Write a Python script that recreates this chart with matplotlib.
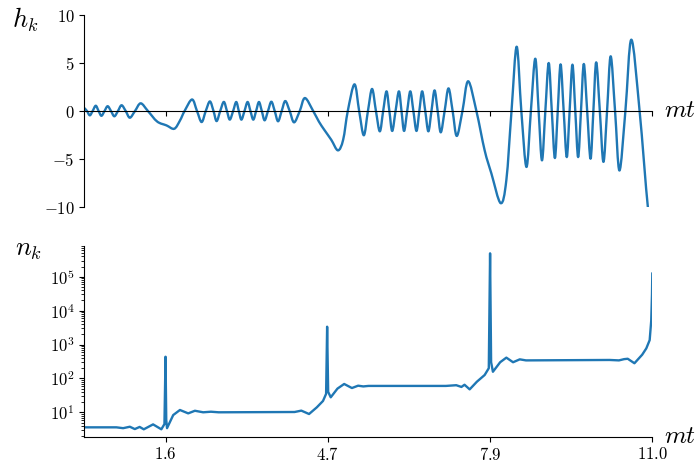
import numpy as np
import matplotlib
matplotlib.use("Agg")
import matplotlib.pyplot as plt
from matplotlib.path import Path
from matplotlib.patches import PathPatch
from matplotlib.ticker import FixedLocator, FuncFormatter, NullFormatter, LogLocator

plt.rcParams.update({
    "font.family": "serif",
    "font.serif": ["cmr10"],
    "mathtext.fontset": "cm",
    "axes.formatter.use_mathtext": True,
    "axes.unicode_minus": True,
})

# ---- data ----
# top panel: mode function h_k versus mt (extrema and zero crossings)
h_t = [0.00, 0.05, 0.105, 0.16, 0.22, 0.275, 0.33, 0.39, 0.45, 0.515, 0.58, 0.65, 0.72, 0.80, 0.88, 0.98,
       1.09, 1.23, 1.41, 1.59, 1.74, 1.85, 1.94, 2.085, 2.18, 2.27, 2.35, 2.43, 2.50, 2.56, 2.63, 2.70,
       2.76, 2.815, 2.88, 2.94, 2.99, 3.04, 3.10, 3.16, 3.215, 3.27, 3.325, 3.38, 3.435, 3.49, 3.555,
       3.62, 3.685, 3.75, 3.82, 3.89, 3.975, 4.06, 4.17, 4.27, 4.43, 4.54, 4.65, 4.78, 4.91, 5.01, 5.10,
       5.23, 5.32, 5.41, 5.49, 5.57, 5.645, 5.72, 5.785, 5.85, 5.905, 5.96, 6.025, 6.09, 6.14, 6.19,
       6.25, 6.31, 6.37, 6.43, 6.485, 6.54, 6.60, 6.66, 6.72, 6.78, 6.84, 6.90, 6.975, 7.05, 7.13, 7.21,
       7.32, 7.43, 7.59, 7.75, 7.88, 8.06, 8.17, 8.27, 8.37, 8.46, 8.56, 8.645, 8.73, 8.795, 8.86,
       8.925, 8.99, 9.05, 9.11, 9.165, 9.22, 9.28, 9.34, 9.395, 9.45, 9.505, 9.56, 9.615, 9.67, 9.735,
       9.80, 9.855, 9.91, 9.98, 10.05, 10.12, 10.19, 10.275, 10.36, 10.475, 10.59, 10.75, 10.91, 10.996]
h_v = [0.30, 0.0, -0.45, 0.0, 0.55, 0.0, -0.5, 0.0, 0.5, 0.0, -0.55, 0.0, 0.6, 0.0, -0.7, 0.0,
       0.8, 0.0, -1.1, -1.5, -1.85, -1.0, 0.0, 1.2, 0.0, -1.15, 0.0, 1.0, 0.0, -1.05, 0.0, 0.95,
       0.0, -0.9, 0.0, 0.94, 0.0, -0.9, 0.0, 0.94, 0.0, -0.9, 0.0, 0.94, 0.0, -0.97, 0.0,
       0.97, 0.0, -1.07, 0.0, 1.04, 0.0, -1.18, 0.0, 1.35, 0.0, -1.1, -2.0, -3.0, -4.1, -3.0, 0.0,
       2.78, 0.0, -2.53, 0.0, 2.3, 0.0, -2.12, 0.0, 2.05, 0.0, -2.08, 0.0, 2.05, 0.0, -2.08,
       0.0, 2.05, 0.0, -2.08, 0.0, 2.05, 0.0, -2.12, 0.0, 2.15, 0.0, -2.22, 0.0, 2.36, 0.0, -2.6,
       0.0, 3.1, 0.0, -4.1, -6.5, -9.6, -7.2, 0.0, 6.7, 0.0, -5.83, 0.0, 5.45, 0.0, -5.14,
       0.0, 5.0, 0.0, -4.9, 0.0, 4.86, 0.0, -4.8, 0.0, 4.83, 0.0, -4.8, 0.0, 4.9, 0.0,
       -4.97, 0.0, 5.07, 0.0, -5.3, 0.0, 5.7, 0.0, -6.2, 0.0, 7.43, 0.0, -10.0, -12.5]

# bottom panel: occupation number n_k versus mt
n_t = [0.00, 0.62, 0.75, 0.88, 0.976, 1.07, 1.15, 1.33, 1.49, 1.55, 1.571, 1.585, 1.60, 1.72, 1.85,
       2.01, 2.14, 2.30, 2.45, 2.60, 4.07, 4.20, 4.35, 4.50, 4.62, 4.68, 4.70, 4.72, 4.77, 4.90, 5.03,
       5.18, 5.30, 5.40, 5.50, 7.00, 7.20, 7.30, 7.36, 7.46, 7.60, 7.75, 7.83, 7.855, 7.875, 7.91,
       8.05, 8.17, 8.30, 8.43, 8.55, 10.17, 10.35, 10.45, 10.52, 10.65, 10.80, 10.88, 10.945, 10.975,
       10.99, 10.996]
n_v = [3.6, 3.6, 3.4, 3.75, 3.2, 3.7, 3.15, 4.4, 3.15, 4.5, 436.0, 6.0, 3.4, 8.3, 11.7,
       9.3, 11.1, 10.0, 10.4, 10.0, 10.2, 11.2, 8.9, 14.0, 21.6, 35.0, 3350.0, 40.0, 27.7, 50.0, 68.5,
       52.0, 61.0, 58.0, 60.0, 60.0, 63.0, 56.0, 65.0, 47.5, 80.0, 126.0, 200.0, 4.9e5, 300.0, 157.0,
       300.0, 410.0, 300.0, 365.0, 340.0, 350.0, 340.0, 370.0, 380.0, 280.0, 500.0, 770.0, 1350.0, 5000.0,
       30000.0, 1.24e5]

tick_pos = [np.pi / 2, 3 * np.pi / 2, 5 * np.pi / 2, 7 * np.pi / 2]
tick_lab = ["1.6", "4.7", "7.9", "11.0"]
h_ticks = [-10, -5, 0, 5, 10]

color = "#1f77b4"


def smooth_path(xs, ys):
    """Cubic Bezier (Catmull-Rom style) path passing through the given data points."""
    P = np.column_stack([xs, ys]).astype(float)
    n = len(P)
    verts = [P[0]]
    codes = [Path.MOVETO]
    for i in range(n - 1):
        p0 = P[i - 1] if i > 0 else P[i]
        p1 = P[i]
        p2 = P[i + 1]
        p3 = P[i + 2] if i + 2 < n else P[i + 1]
        c1 = p1 + (p2 - p0) / 6.0
        c2 = p2 - (p3 - p1) / 6.0
        verts += [c1, c2, p2]
        codes += [Path.CURVE4] * 3
    return Path(verts, codes)


fig = plt.figure(figsize=(6.98, 4.63), dpi=100)
ax1 = fig.add_axes([0.1209, 0.5529, 0.8136, 0.4147])
ax2 = fig.add_axes([0.1209, 0.0568, 0.8136, 0.4125])

# top panel
ax1.add_patch(PathPatch(smooth_path(h_t, h_v), facecolor="none", edgecolor=color,
                        lw=1.7, capstyle="round", joinstyle="round"))
ax1.set_xlim(0, 7 * np.pi / 2)
ax1.set_ylim(-10, 10)
ax1.spines["top"].set_visible(False)
ax1.spines["right"].set_visible(False)
ax1.spines["bottom"].set_position(("data", 0))
ax1.xaxis.set_major_locator(FixedLocator(tick_pos))
ax1.xaxis.set_major_formatter(NullFormatter())
ax1.yaxis.set_major_locator(FixedLocator(h_ticks))
ax1.yaxis.set_major_formatter(FuncFormatter(lambda v, p: r"$%d$" % v if v >= 0 else r"$-%d$" % (-v)))
ax1.tick_params(labelsize=12)
ax1.text(-0.105, 0.975, r"$h_k$", transform=ax1.transAxes, fontsize=19, ha="center", va="center")
ax1.text(1.021, 0.5, r"$mt$", transform=ax1.transAxes, fontsize=18, ha="left", va="center")

# bottom panel
ax2.plot(n_t, n_v, color=color, lw=1.7, solid_joinstyle="round")
ax2.set_yscale("log")
ax2.set_xlim(0, 7 * np.pi / 2)
ax2.set_ylim(10 ** 0.28, 10 ** 5.915)
ax2.spines["top"].set_visible(False)
ax2.spines["right"].set_visible(False)
ax2.set_xticks(tick_pos)
ax2.set_xticklabels([r"$%s$" % s for s in tick_lab])
ax2.yaxis.set_major_locator(LogLocator(base=10, numticks=10))
ax2.yaxis.set_minor_locator(LogLocator(base=10, subs=np.arange(2, 10), numticks=20))
ax2.yaxis.set_minor_formatter(NullFormatter())
ax2.tick_params(labelsize=12)
ax2.text(-0.098, 0.975, r"$n_k$", transform=ax2.transAxes, fontsize=19, ha="center", va="center")
ax2.text(1.021, 0.0, r"$mt$", transform=ax2.transAxes, fontsize=18, ha="left", va="center")

fig.savefig("out.png", dpi=100)
